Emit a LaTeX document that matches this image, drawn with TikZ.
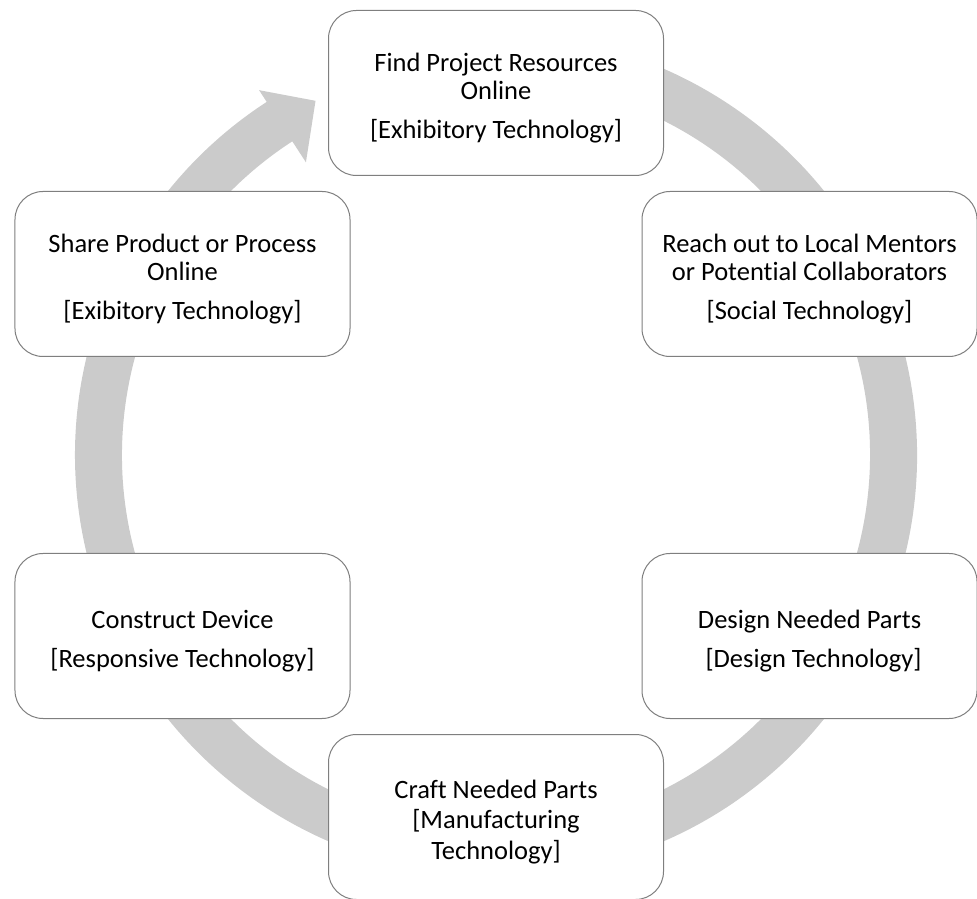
\documentclass[tikz,border=0pt]{standalone}
\usepackage{fontspec}
\setmainfont{Carlito}[Ligatures={NoCommon}]
\definecolor{ringgray}{HTML}{CBCBCB}
\definecolor{boxline}{HTML}{7F7F7F}
% tall invisible strut that lowers each text block a little in its box
\newcommand{\toppad}{\rule{0pt}{28bp}}
\begin{document}
\begin{tikzpicture}[x=1bp,y=1bp,
  stepbox/.style={draw=boxline, line width=1bp, fill=white,
    rounded corners=28bp, minimum width=335bp, minimum height=165bp,
    inner sep=0pt, align=center,
    font=\fontsize{26.5bp}{28bp}\selectfont},
]
\useasboundingbox (0,0) rectangle (977,899);
\coordinate (c) at (496,444);

% circular arrow running clockwise behind the steps
\fill[ringgray]
  ([shift={(100:421bp)}]c) arc[start angle=100, end angle=-237, radius=421bp]
  -- ([shift={(-237:435bp)}]c)
  -- ([shift={(-243:397.5bp)}]c)
  -- ([shift={(-237:349bp)}]c)
  -- ([shift={(-237:374bp)}]c)
  arc[start angle=-237, end angle=100, radius=374bp] -- cycle;

% the six steps of the cycle
\node[stepbox] (find) at ([shift={(90:362bp)}]c)
  {\toppad Find Project Resources\\Online\\[11bp][Exhibitory Technology]};
\node[stepbox] (reach) at ([shift={(30:362bp)}]c)
  {\toppad Reach out to Local Mentors\\or Potential Collaborators\\[11bp][Social Technology]};
\node[stepbox] (design) at ([shift={(-30:362bp)}]c)
  {\toppad Design Needed Parts\\[11bp]\hspace{0.3em}[Design Technology]};
\node[stepbox, font=\fontsize{26.5bp}{30.5bp}\selectfont] (craft) at ([shift={(-90:362bp)}]c)
  {\toppad Craft Needed Parts\\[0bp][Manufacturing\\Technology]};
\node[stepbox] (construct) at ([shift={(-150:362bp)}]c)
  {\toppad Construct Device\\[11bp][Responsive Technology]};
\node[stepbox] (share) at ([shift={(150:362bp)}]c)
  {\toppad Share Product or Process\\Online\\[11bp][Exibitory Technology]};
\end{tikzpicture}
\end{document}
